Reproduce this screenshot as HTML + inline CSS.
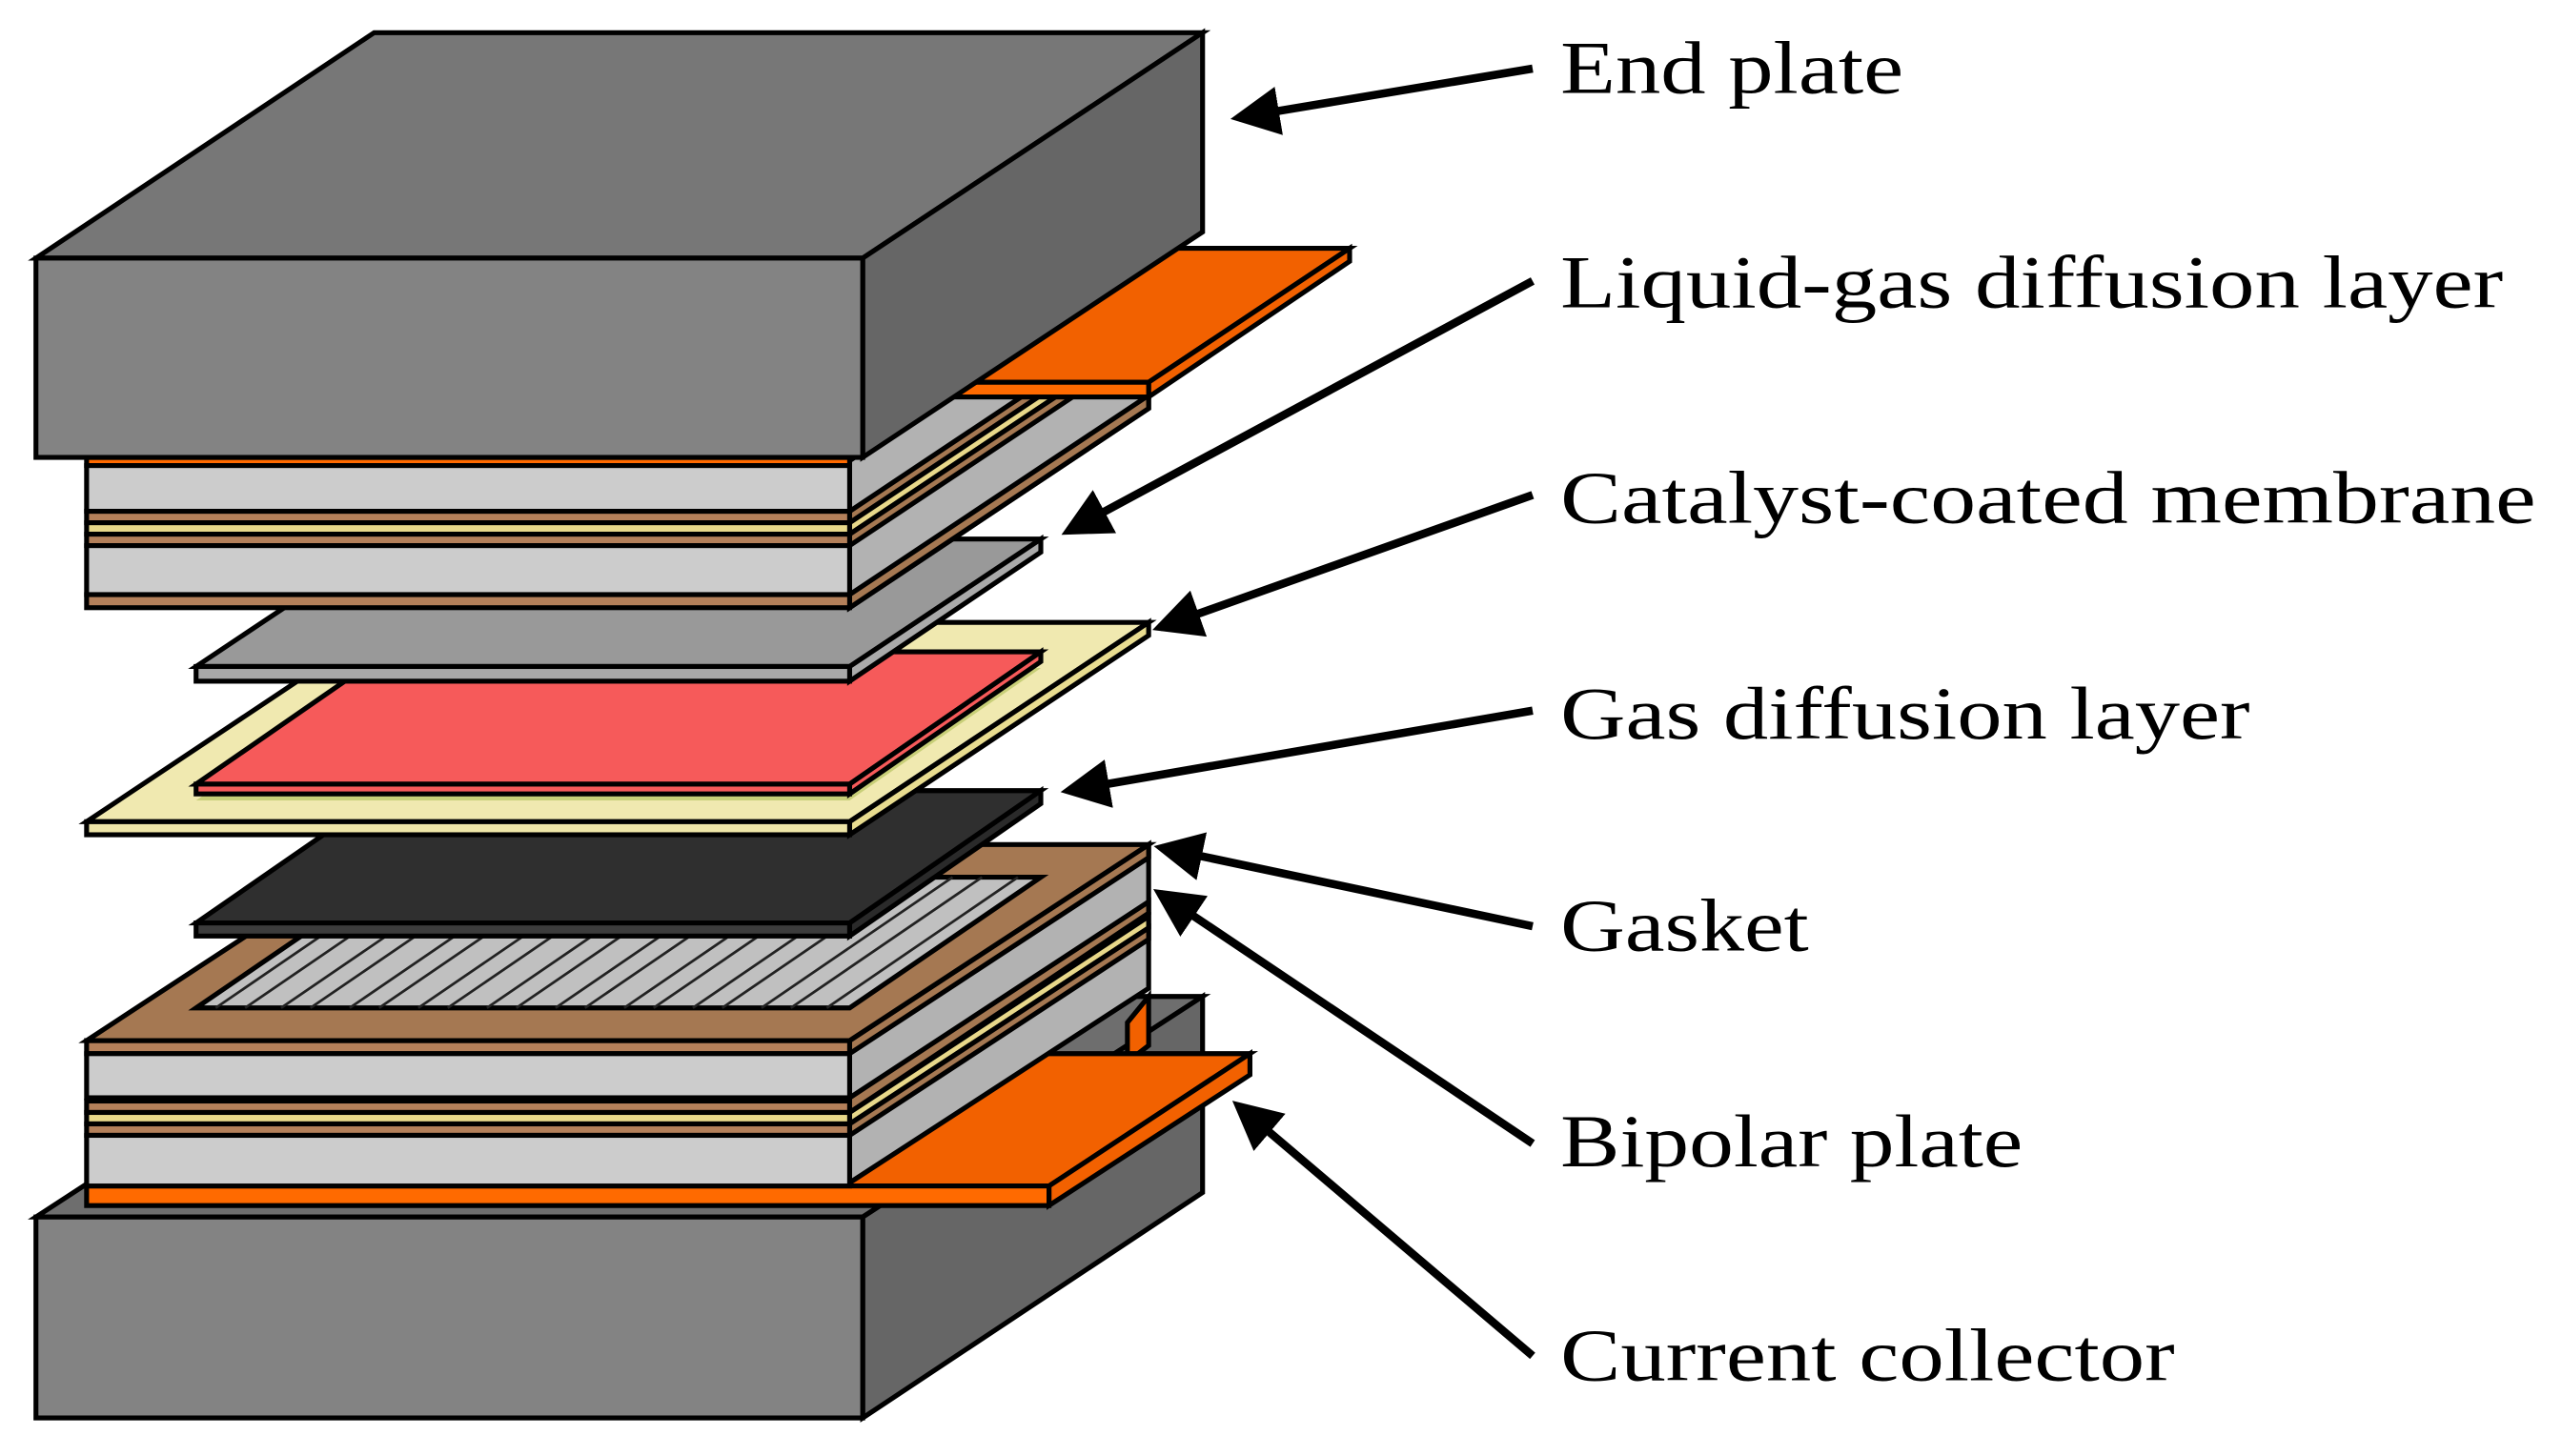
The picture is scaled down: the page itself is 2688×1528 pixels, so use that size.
<!DOCTYPE html>
<html><head><meta charset="utf-8"><style>html,body{margin:0;padding:0;background:#fff}svg{display:block}</style></head>
<body>
<svg width="2688" height="1528" viewBox="0 0 1568 891.3" preserveAspectRatio="none" xmlns="http://www.w3.org/2000/svg">
<defs>
<marker id="ah" markerWidth="6" markerHeight="6" refX="5" refY="3" orient="auto" markerUnits="strokeWidth"><path d="M0,0 L6,3 L0,6 z" fill="#000"/></marker>
</defs>
<g stroke="#000" stroke-width="3" stroke-linejoin="miter">
<!-- bottom end plate -->
<polygon points="22,745 229,610 736,610 528,745" fill="#6e6e6e"/>
<polygon points="528,745 736,610 736,730 528,868" fill="#666"/>
<rect x="22" y="745" width="506" height="123" fill="#838383"/>
<!-- bottom current collector -->
<polygon points="690,626 703,610 703,640 690,650" fill="#f26100"/>
<polygon points="53,726 176,645 765,645 642,726" fill="#f26100"/>
<polygon points="642,726 765,645 765,658 642,738" fill="#f26100"/>
<rect x="53" y="726" width="589" height="12" fill="#ff6a00"/>
<!-- bottom stack right face -->
<polygon points="520,637 703,517 703,605 520,724" fill="#b2b2b2"/>
<polygon points="520,672 703,552 703,559 520,681" fill="#a57852"/>
<polygon points="520,681 703,561 703,568 520,688" fill="#e8d88a"/>
<polygon points="520,688 703,568 703,575 520,695" fill="#a57852"/>
<polygon points="520,637 703,517 703,525 520,645" fill="#a57852"/>
<!-- bottom stack front -->
<rect x="53" y="637" width="467" height="8" fill="#b4805a"/>
<rect x="53" y="645" width="467" height="27" fill="#cccccc"/>
<rect x="53" y="674" width="467" height="7" fill="#b4805a"/>
<rect x="53" y="681" width="467" height="7" fill="#e8d88a"/>
<rect x="53" y="688" width="467" height="7" fill="#b4805a"/>
<rect x="53" y="695" width="467" height="31" fill="#cccccc"/>
<!-- top face brown -->
<polygon points="53,637 236,517 703,517 520,637" fill="#a57852"/>
<!-- flow field -->
<polygon points="120,617 237,537 637,537 520,617" fill="#c0c0c0"/>
</g>
<g stroke="#222" stroke-width="1.6">
<line x1="132" y1="617" x2="249" y2="537"/><line x1="150" y1="617" x2="267" y2="537"/><line x1="172" y1="617" x2="289" y2="537"/><line x1="190" y1="617" x2="307" y2="537"/><line x1="214" y1="617" x2="331" y2="537"/><line x1="232" y1="617" x2="349" y2="537"/><line x1="256" y1="617" x2="373" y2="537"/><line x1="274" y1="617" x2="391" y2="537"/><line x1="298" y1="617" x2="415" y2="537"/><line x1="316" y1="617" x2="433" y2="537"/><line x1="340" y1="617" x2="457" y2="537"/><line x1="358" y1="617" x2="475" y2="537"/><line x1="382" y1="617" x2="499" y2="537"/><line x1="400" y1="617" x2="517" y2="537"/><line x1="424" y1="617" x2="541" y2="537"/><line x1="442" y1="617" x2="559" y2="537"/><line x1="466" y1="617" x2="583" y2="537"/><line x1="484" y1="617" x2="601" y2="537"/><line x1="506" y1="617" x2="623" y2="537"/>
</g>
<g stroke="#000" stroke-width="3">
<!-- gasket -->
<polygon points="120,565 237,484 637,484 520,565" fill="#2f2f2f"/>
<polygon points="520,565 637,484 637,492 520,573" fill="#2a2a2a"/>
<rect x="120" y="565" width="400" height="8" fill="#3c3c3c"/>
<!-- GDL frame -->
<polygon points="53,503 236,381 703,381 520,503" fill="#f0e9b0"/>
<polygon points="120,490 237,409 637,409 520,490" fill="#c8cf78" stroke="none"/>
<polygon points="520,503 703,381 703,389 520,511" fill="#e8dc90"/>
<rect x="53" y="503" width="467" height="8" fill="#eee6a8"/>
<!-- red CCM -->
<polygon points="120,480 237,399 637,399 520,480" fill="#f65a5a"/>
<polygon points="520,480 637,399 637,405 520,486" fill="#f65a5a"/>
<rect x="120" y="480" width="400" height="6" fill="#f65a5a"/>
<!-- gray GDL -->
<polygon points="120,408 237,330 637,330 520,408" fill="#999"/>
<polygon points="520,408 637,330 637,338 520,417" fill="#aaa"/>
<rect x="120" y="408" width="400" height="9" fill="#a8a8a8"/>
<!-- upper stack right face -->
<polygon points="520,282 703,160 703,250 520,372" fill="#b2b2b2"/>
<polygon points="520,313 703,191 703,198 520,320" fill="#a57852"/>
<polygon points="520,320 703,198 703,205 520,327" fill="#e8d88a"/>
<polygon points="520,327 703,205 703,212 520,334" fill="#a57852"/>
<polygon points="520,364 703,242 703,250 520,372" fill="#a57852"/>
<!-- upper stack front -->
<rect x="53" y="280" width="467" height="5" fill="#ff6a00"/>
<rect x="53" y="285" width="467" height="28" fill="#cccccc"/>
<rect x="53" y="313" width="467" height="7" fill="#b4805a"/>
<rect x="53" y="320" width="467" height="7" fill="#e8d88a"/>
<rect x="53" y="327" width="467" height="7" fill="#b4805a"/>
<rect x="53" y="334" width="467" height="30" fill="#cccccc"/>
<rect x="53" y="364" width="467" height="8" fill="#b4805a"/>
<!-- top current collector -->
<polygon points="585,234 708,152 826,152 703,234" fill="#f26100"/>
<polygon points="703,234 826,152 826,160 703,243" fill="#f26100"/>
<rect x="585" y="234" width="118" height="9" fill="#ff6a00"/>
<!-- top end plate -->
<polygon points="22,158 229,20 736,20 528,158" fill="#777"/>
<polygon points="528,158 736,20 736,142 528,280" fill="#666"/>
<rect x="22" y="158" width="506" height="122" fill="#838383"/>
</g>
<!-- arrows -->
<g stroke="#000" stroke-width="5" marker-end="url(#ah)" fill="none">
<line x1="938" y1="42" x2="758" y2="72"/>
<line x1="938" y1="172" x2="654" y2="325"/>
<line x1="938" y1="303" x2="710" y2="384"/>
<line x1="938" y1="435" x2="654" y2="484"/>
<line x1="938" y1="567" x2="711" y2="519"/>
<line x1="938" y1="700" x2="710" y2="547"/>
<line x1="938" y1="830" x2="758" y2="677"/>
</g>
<g font-family="'Liberation Serif', serif" font-size="46" fill="#000">
<text x="955" y="57" textLength="210" lengthAdjust="spacingAndGlyphs">End plate</text>
<text x="955" y="188" textLength="577" lengthAdjust="spacingAndGlyphs">Liquid-gas diffusion layer</text>
<text x="955" y="320" textLength="597" lengthAdjust="spacingAndGlyphs">Catalyst-coated membrane</text>
<text x="955" y="452" textLength="422" lengthAdjust="spacingAndGlyphs">Gas diffusion layer</text>
<text x="955" y="582" textLength="152" lengthAdjust="spacingAndGlyphs">Gasket</text>
<text x="955" y="714" textLength="283" lengthAdjust="spacingAndGlyphs">Bipolar plate</text>
<text x="955" y="845" textLength="376" lengthAdjust="spacingAndGlyphs">Current collector</text>
</g>
</svg>
</body></html>
